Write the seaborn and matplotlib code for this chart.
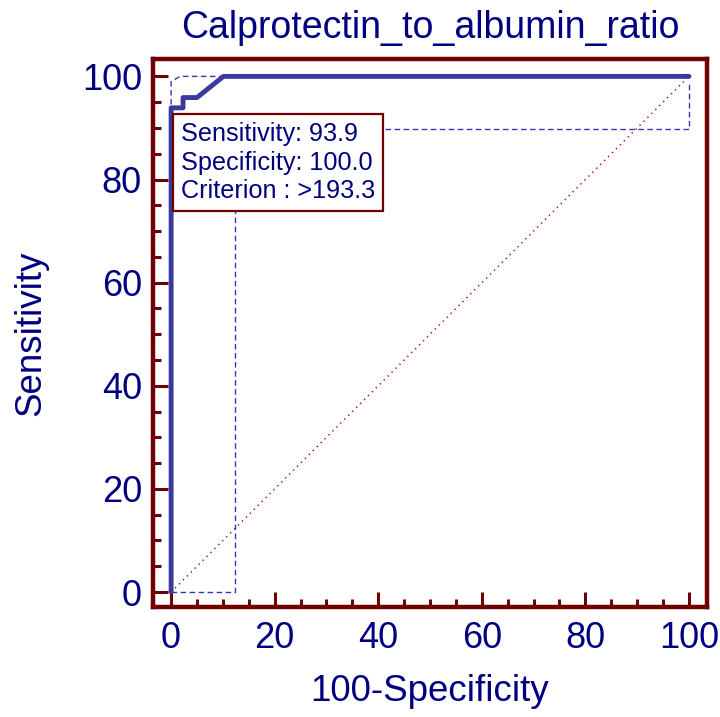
import numpy as np
import pandas as pd
import seaborn as sns
import matplotlib.pyplot as plt
from matplotlib.ticker import MultipleLocator

# ROC curve (x = 100-Specificity, y = Sensitivity)
roc_fpr = [0, 0, 2.3, 2.3, 5.0, 10.1, 100]
roc_tpr = [0, 93.9, 93.9, 95.9, 95.9, 100, 100]

# 95% confidence bounds (dashed)
upper_fpr = [0, 0, 1.7, 10.1]
upper_tpr = [0, 99.0, 100, 100]
lower_fpr = [0, 12.3, 12.3, 100, 100]
lower_tpr = [0, 0, 89.8, 89.8, 99.0]

diag = [0, 100]

title = "Calprotectin_to_albumin_ratio"
info_lines = ["Sensitivity: 93.9", "Specificity: 100.0", "Criterion : >193.3"]

navy = "#000080"
maroon = "#700000"
curve_col = "#3A3A9C"

sns.set_style("white")
plt.rcParams['font.family'] = ['Liberation Sans', 'DejaVu Sans']

fig = plt.figure(figsize=(7.2, 7.17), dpi=100)
ax = fig.add_axes([0.2125, 0.1534, 0.7695, 0.7645])

roc = pd.DataFrame({"fpr": roc_fpr, "tpr": roc_tpr})
up = pd.DataFrame({"fpr": upper_fpr, "tpr": upper_tpr})
lo = pd.DataFrame({"fpr": lower_fpr, "tpr": lower_tpr})

# diagonal reference line
sns.lineplot(x=diag, y=diag, ax=ax, color="#B00000", lw=1.0,
             linestyle=(0, (1, 3)), sort=False, estimator=None, zorder=1)
# confidence bounds
for d in (up, lo):
    sns.lineplot(data=d, x="fpr", y="tpr", ax=ax, color="#3535C0", lw=1.0,
                 linestyle=(0, (4, 2.5)), sort=False, estimator=None, zorder=2)
# ROC curve
sns.lineplot(data=roc, x="fpr", y="tpr", ax=ax, color=curve_col, lw=3.5,
             sort=False, estimator=None, zorder=3)

ax.set_xlim(-3.5, 103.5)
ax.set_ylim(-2.9, 103.4)
ax.xaxis.set_major_locator(MultipleLocator(20))
ax.yaxis.set_major_locator(MultipleLocator(20))
ax.xaxis.set_minor_locator(MultipleLocator(5))
ax.yaxis.set_minor_locator(MultipleLocator(5))
ax.tick_params(which="both", bottom=True, left=True, top=False, right=False)
ax.tick_params(which="major", direction="in", length=10.5, width=2.2,
               color=maroon, labelcolor=navy, labelsize=26, pad=8)
ax.tick_params(which="minor", direction="in", length=5.5, width=2.2,
               color=maroon)
ax.tick_params(axis="x", which="major", pad=10)
for s in ax.spines.values():
    s.set_color(maroon)
    s.set_linewidth(3.2)

ax.set_title(title, color=navy, fontsize=27, pad=15)
ax.set_xlabel("100-Specificity", color=navy, fontsize=26.5, labelpad=13)
ax.set_ylabel("Sensitivity", color=navy, fontsize=26.5, labelpad=24)

ax.text(0.05, 0.885, "\n".join(info_lines), transform=ax.transAxes,
        ha="left", va="top", fontsize=18.2, color=navy, linespacing=1.25,
        zorder=6,
        bbox=dict(boxstyle="square,pad=0.3", fc="white", ec=maroon, lw=1.6))

fig.savefig("out.png", dpi=100)
